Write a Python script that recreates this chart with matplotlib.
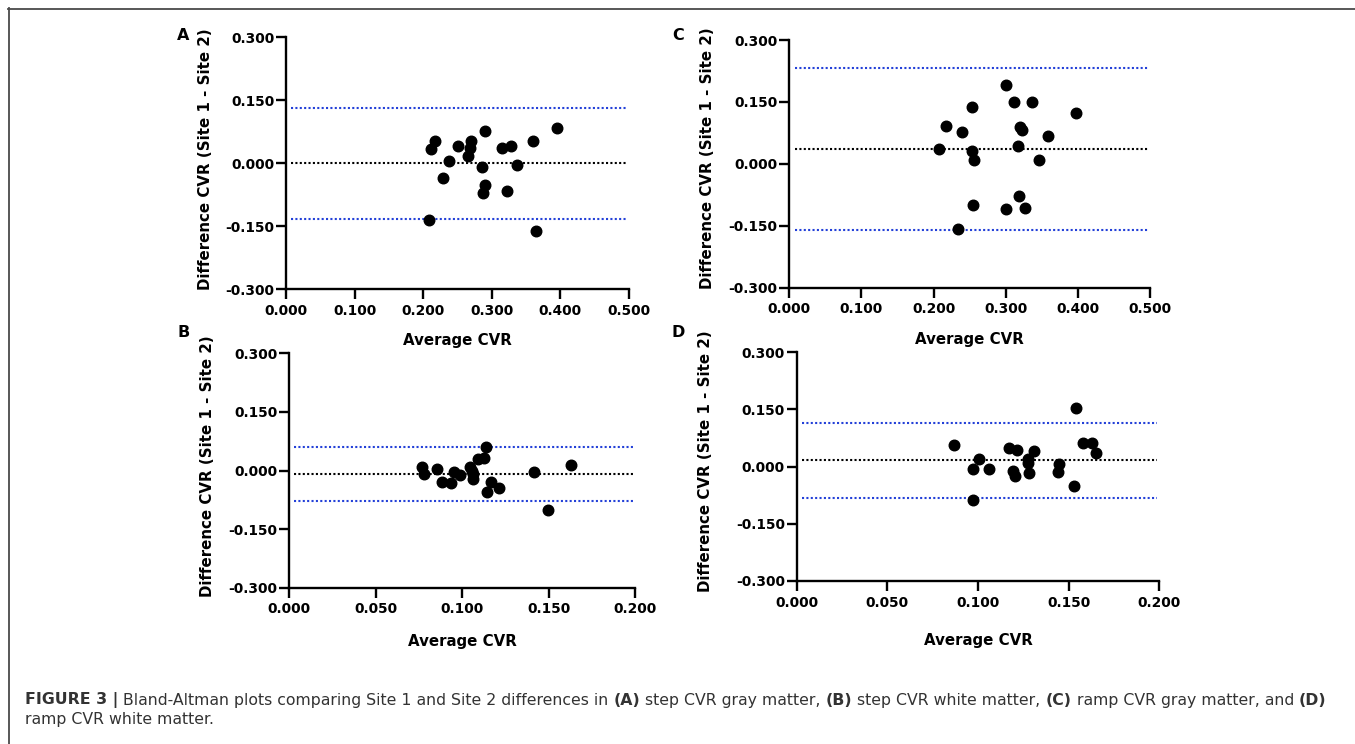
import matplotlib
matplotlib.use("Agg")
import matplotlib.pyplot as plt
from matplotlib.lines import Line2D
from matplotlib.ticker import FormatStrFormatter, MultipleLocator

W, H = 1355, 744

# (A) step CVR gray matter
a_avg = [0.211, 0.217, 0.251, 0.270, 0.268, 0.265, 0.290, 0.238, 0.229, 0.286,
         0.290, 0.288, 0.315, 0.329, 0.337, 0.322, 0.361, 0.396, 0.209, 0.365]
a_diff = [0.034, 0.052, 0.041, 0.052, 0.037, 0.017, 0.078, 0.005, -0.035, -0.008,
          -0.052, -0.071, 0.036, 0.042, -0.003, -0.067, 0.054, 0.083, -0.136, -0.162]
a_bias = 0.000
a_loa = [0.131, -0.133]

# (B) step CVR white matter
b_avg = [0.0766, 0.0779, 0.0852, 0.0881, 0.0935, 0.0953, 0.0987, 0.1045, 0.1055, 0.1065,
         0.1094, 0.1126, 0.1136, 0.1165, 0.1146, 0.1213, 0.1416, 0.1495, 0.1628, 0.1060]
b_diff = [0.0094, -0.0085, 0.0051, -0.030, -0.032, -0.0034, -0.012, 0.010, 0.000, -0.021,
          0.029, 0.033, 0.060, -0.030, -0.055, -0.044, -0.005, -0.102, 0.0128, -0.010]
b_bias = -0.0094
b_loa = [0.060, -0.0785]

# (C) ramp CVR gray matter
c_avg = [0.208, 0.217, 0.239, 0.253, 0.253, 0.256, 0.254, 0.234, 0.300, 0.311,
         0.336, 0.320, 0.322, 0.317, 0.319, 0.300, 0.327, 0.346, 0.358, 0.397]
c_diff = [0.036, 0.091, 0.077, 0.137, 0.032, 0.010, -0.099, -0.159, 0.190, 0.150,
          0.149, 0.090, 0.082, 0.044, -0.079, -0.110, -0.107, 0.010, 0.067, 0.123]
c_bias = 0.037
c_loa = [0.233, -0.160]

# (D) ramp CVR white matter
d_avg = [0.0869, 0.0971, 0.1007, 0.0971, 0.1063, 0.1171, 0.1217, 0.1195, 0.1204, 0.1274,
         0.1278, 0.1281, 0.1309, 0.1447, 0.1441, 0.1531, 0.1539, 0.1581, 0.1627, 0.1649]
d_diff = [0.056, -0.005, 0.020, -0.087, -0.005, 0.049, 0.044, -0.0105, -0.025, 0.019,
          0.0105, -0.0175, 0.040, 0.008, -0.015, -0.052, 0.154, 0.061, 0.061, 0.035]
d_bias = 0.0175
d_loa = [0.1155, -0.081]

x_label = "Average CVR"
y_label = "Difference CVR (Site 1 - Site 2)"

plt.rcParams["font.family"] = ["DejaVu Sans"]

fig = plt.figure(figsize=(W / 100, H / 100), dpi=100)


def px_rect(left, top, right, bottom):
    return [left / W, 1 - bottom / H, (right - left) / W, (bottom - top) / H]


def panel(rect, avg, diff, bias, loa, xmax, xstep, letter, letter_xy, ylab_xy, xlab_y):
    ax = fig.add_axes(px_rect(*rect))
    ax.set_xlim(0, xmax)
    ax.set_ylim(-0.3, 0.3)
    ax.xaxis.set_major_locator(MultipleLocator(xstep))
    ax.yaxis.set_major_locator(MultipleLocator(0.15))
    ax.xaxis.set_major_formatter(FormatStrFormatter("%.3f"))
    ax.yaxis.set_major_formatter(FormatStrFormatter("%.3f"))
    for side in ["top", "right"]:
        ax.spines[side].set_visible(False)
    for side in ["left", "bottom"]:
        ax.spines[side].set_linewidth(1.7)
    ax.tick_params(direction="out", length=7, width=1.7, labelsize=9.9)
    ax.tick_params(axis="y", pad=1.5)
    ax.tick_params(axis="x", pad=3.5)
    for lab in ax.get_xticklabels() + ax.get_yticklabels():
        lab.set_fontweight("bold")

    ax.axhline(bias, xmin=0.015, xmax=0.995, color="black", lw=1.5,
               linestyle=(0, (1, 1.1)), zorder=1)
    for v in loa:
        ax.axhline(v, xmin=0.015, xmax=0.995, color="#2340d8", lw=1.5,
                   linestyle=(0, (1, 1.1)), zorder=1)
    ax.plot(avg, diff, "o", color="black", markersize=7.6, clip_on=False, zorder=3)

    ax.set_xlabel(x_label, fontsize=10.8, fontweight="bold")
    ax.set_ylabel(y_label, fontsize=10.8, fontweight="bold")
    ax.xaxis.label.set_verticalalignment("center")
    ax.yaxis.label.set_verticalalignment("center")
    ax.xaxis.set_label_coords(0.5, xlab_y)
    l, t, r, b = rect
    ax.yaxis.set_label_coords((ylab_xy[0] - l) / (r - l), (b - ylab_xy[1]) / (b - t))

    fig.text(letter_xy[0] / W, 1 - letter_xy[1] / H, letter, fontsize=11.5,
             fontweight="bold", ha="center", va="center")
    return ax


panel((286, 37.3, 628.7, 289.3), a_avg, a_diff, a_bias, a_loa, 0.5, 0.1,
      "A", (183, 35), (205, 159), -0.204)
panel((789.3, 40, 1150, 287.7), c_avg, c_diff, c_bias, c_loa, 0.5, 0.1,
      "C", (678, 36), (707, 158.3), -0.211)
panel((289.3, 353.3, 635, 587.7), b_avg, b_diff, b_bias, b_loa, 0.2, 0.05,
      "B", (184, 332), (207, 465.8), -0.230)
panel((796.7, 352.3, 1159.3, 581), d_avg, d_diff, d_bias, d_loa, 0.2, 0.05,
      "D", (678, 333), (705, 460.8), -0.261)

# frame lines around the figure area
fig.add_artist(Line2D([8 / W, 1], [1 - 8.5 / H, 1 - 8.5 / H], color="#4a4a4a", lw=1.3))
fig.add_artist(Line2D([8.5 / W, 8.5 / W], [0, 1 - 8 / H], color="#4a4a4a", lw=1.3))

# caption with bold runs
cap_ax = fig.add_axes([0, 0, 1, 1], zorder=-1)
cap_ax.axis("off")

line1 = [
    ("FIGURE 3 |", True),
    ("Bland-Altman plots comparing Site 1 and Site 2 differences in", False),
    ("(A)", True),
    ("step CVR gray matter,", False),
    ("(B)", True),
    ("step CVR white matter,", False),
    ("(C)", True),
    ("ramp CVR gray matter, and", False),
    ("(D)", True),
]
line2 = [("ramp CVR white matter.", False)]

cap_size = 11.3


def caption_line(runs, x, y):
    prev = None
    for text, bold in runs:
        kw = dict(fontsize=cap_size, color="#333333",
                  fontweight="bold" if bold else "normal",
                  ha="left", va="bottom", annotation_clip=False)
        if prev is None:
            prev = cap_ax.annotate(text, xy=(x, y), xycoords="figure fraction", **kw)
        else:
            prev = cap_ax.annotate(text, xy=(1, 0), xycoords=prev,
                                   xytext=(cap_size * 0.32, 0),
                                   textcoords="offset points", **kw)


caption_line(line1, 25 / W, 1 - 708 / H)
caption_line(line2, 25 / W, 1 - 727 / H)

fig.savefig("out.png", dpi=100)
